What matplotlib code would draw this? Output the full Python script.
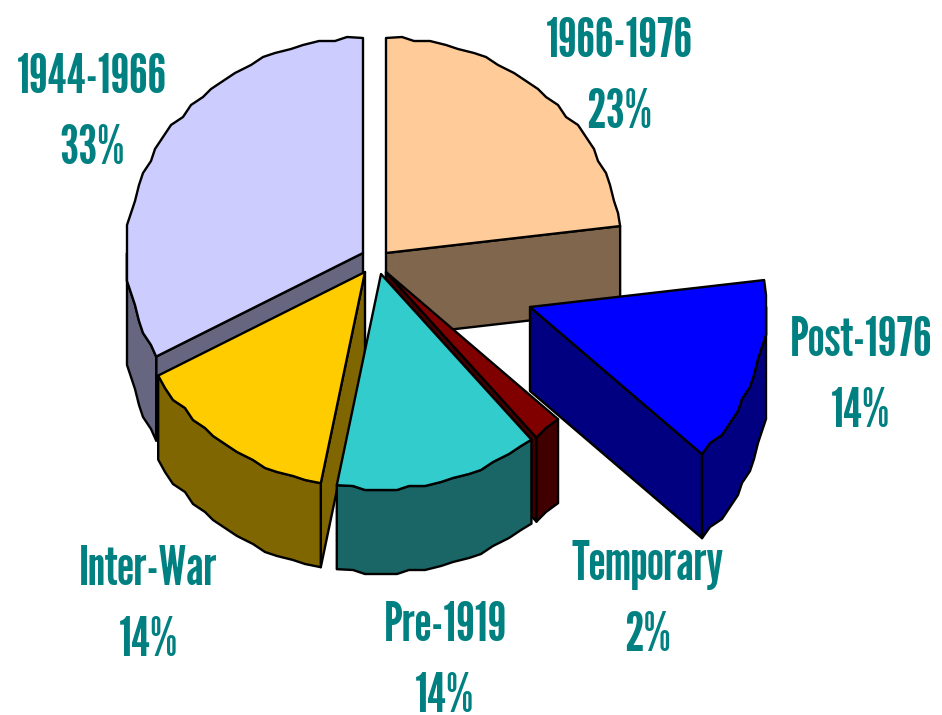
import numpy as np
import matplotlib
matplotlib.use('Agg')
import matplotlib.pyplot as plt
from matplotlib.patches import Polygon

plt.rcParams['font.family'] = ['League Gothic', 'Fjalla One', 'Liberation Sans']

# ======================
# DATA
# ======================

# clockwise from 12 o'clock
labels = ['1966-1976', 'Post-1976', 'Temporary', 'Pre-1919', 'Inter-War', '1944-1966']
values = [23, 14, 2, 14, 14, 33]

top_colors = ['#FFCC99', '#0000FF', '#800000', '#33CCCC', '#FFCC00', '#CCCCFF']
side_colors = ['#80664D', '#000080', '#400000', '#1A6666', '#806600', '#666680']

# apex of each exploded slice, in pixels
apex_x = [386, 530, 386, 381, 365, 363]
apex_y = [253, 307, 272, 274, 272, 253]

# label centre and baseline, in pixels
label_x = [619, 861, 647, 445, 148, 92]
label_y = [57, 356, 580, 641, 585, 93]
PCT_GAP = 71

RX, RY, DEPTH = 236, 215, 84
TEAL = '#008080'
STEP = 4   # the old metafile rounded its rim points, which gives the stepped edge

# back to front
draw_order = [0, 5, 4, 2, 3, 1]

fig = plt.figure(figsize=(9.42, 7.15), dpi=100)
ax = fig.add_axes([0, 0, 1, 1])
ax.set_xlim(0, 942)
ax.set_ylim(715, 0)
ax.axis('off')


def rim(cx, cy, t):
    return np.column_stack([cx + RX * np.sin(t), cy - RY * np.cos(t)])


def stepped(cx, cy, t0, t1):
    n = max(2, int(abs(t1 - t0) / np.radians(3.5)))
    t = np.linspace(t0, t1, n + 1)
    off = np.column_stack([RX * np.sin(t), -RY * np.cos(t)])
    off[1:-1] = np.round(off[1:-1] / STEP) * STEP
    return off + [cx, cy]


def poly(pts, color):
    ax.add_patch(Polygon(pts, closed=True, facecolor=color, edgecolor='black',
                         linewidth=1.7, joinstyle='round'))


edges = np.radians(np.cumsum([0] + values) * 3.6)

for i in draw_order:
    a0, a1 = edges[i], edges[i + 1]
    cx, cy = apex_x[i], apex_y[i]
    down = np.array([0, DEPTH])
    apex = np.array([cx, cy])

    # flat cut faces, only when they look towards the viewer
    for a, sign in ((a1, 1), (a0, -1)):
        if np.cos(a + sign * np.pi / 2) < 0:
            p = rim(cx, cy, np.array([a]))[0]
            poly([apex, p, p + down, apex + down], side_colors[i])

    # outer wall, the front half of the rim only
    lo, hi = max(a0, np.pi / 2), min(a1, 3 * np.pi / 2)
    if hi > lo:
        pts = stepped(cx, cy, lo, hi)
        poly(np.vstack([pts, pts[::-1] + down]), side_colors[i])

    # top
    pts = stepped(cx, cy, a0, a1)
    poly(np.vstack([apex, pts]), top_colors[i])

for i, lab in enumerate(labels):
    ax.text(label_x[i], label_y[i], lab, color=TEAL, fontsize=39,
            ha='center', va='baseline')
    ax.text(label_x[i], label_y[i] + PCT_GAP, '%d%%' % values[i], color=TEAL, fontsize=39,
            ha='center', va='baseline')

fig.savefig('out.png', dpi=100)
